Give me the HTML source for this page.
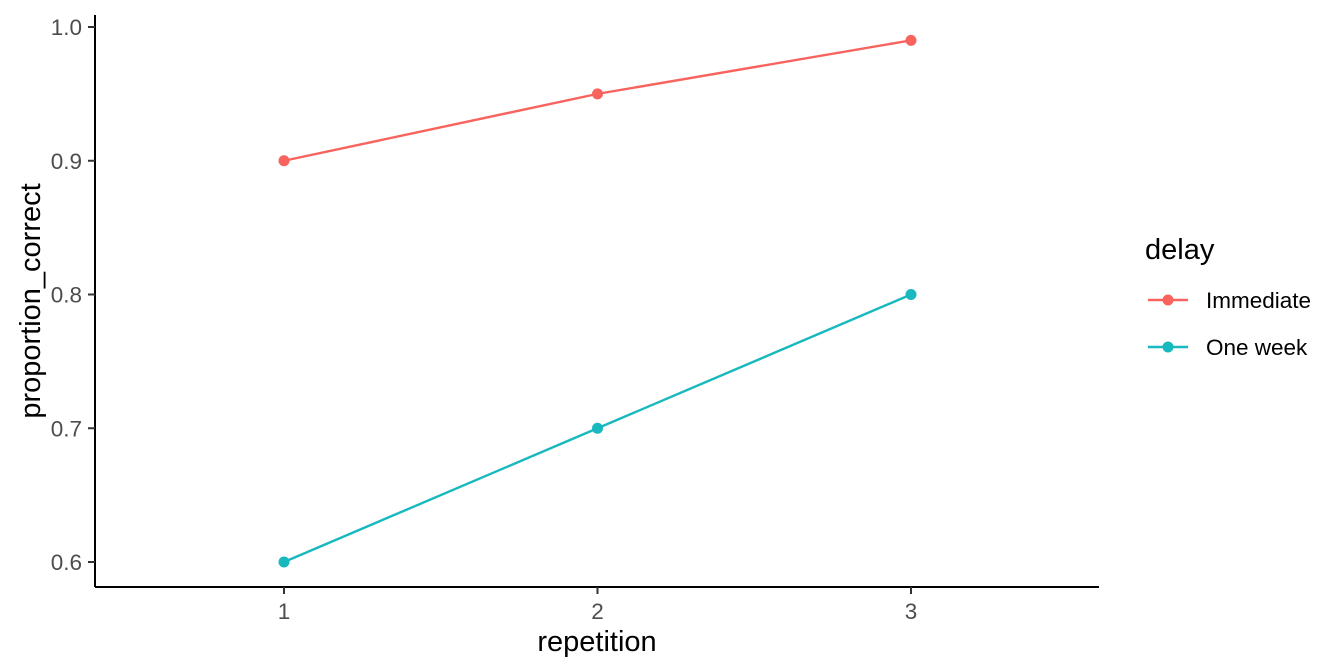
<!DOCTYPE html>
<html><head><meta charset="utf-8"><style>
body{margin:0;background:#fff;}
svg{display:block;font-family:"Liberation Sans",Arial,sans-serif;}
</style></head><body>
<svg id="chart" width="1344" height="672"></svg>
<script>
const categories=[1,2,3];
const immediateValues=[0.90,0.95,0.99];
const oneWeekValues=[0.60,0.70,0.80];
const yTickLabels=["0.6","0.7","0.8","0.9","1.0"];
const xTickLabels=["1","2","3"];
const seriesNames=["Immediate","One week"];

const NS="http://www.w3.org/2000/svg";
const svg=document.getElementById('chart');
function el(t,a,p){const e=document.createElementNS(NS,t);for(const k in a)e.setAttribute(k,a[k]);(p||svg).appendChild(e);return e;}
const xs=v=>284+(v-1)*313.5;
const ys=v=>562-(v-0.6)*1337.5;
const colors=["#F8635E","#17B8BE"];

const xa=el('line',{x1:95,x2:1099,y1:587,y2:587,stroke:'#000','stroke-width':2});

const ya=el('line',{x1:95,x2:95,y1:15,y2:587,stroke:'#000','stroke-width':2});


yTickLabels.forEach(l=>{const y=ys(parseFloat(l));
 const t=el('line',{x1:88,x2:95,y1:y,y2:y,stroke:'#333','stroke-width':2});
 
 const tx=el('text',{x:82,y:y+8,'text-anchor':'end','font-size':22.5,fill:'#4d4d4d'});tx.textContent=l;
 });
xTickLabels.forEach(l=>{const x=xs(parseFloat(l));
 const t=el('line',{x1:x,x2:x,y1:587,y2:594,stroke:'#333','stroke-width':2});
 
 const tx=el('text',{x:x,y:619,'text-anchor':'middle','font-size':22.5,fill:'#4d4d4d'});tx.textContent=l;
 });

const xt=el('text',{x:597,y:651,'text-anchor':'middle','font-size':29,fill:'#000'});xt.textContent='repetition';

const yt=el('text',{x:0,y:0,'text-anchor':'middle','font-size':29,fill:'#000',transform:'translate(40,301) rotate(-90)'});yt.textContent='proportion_correct';


[immediateValues,oneWeekValues].forEach((vals,i)=>{
 const pl=el('polyline',{points:categories.map((c,j)=>xs(c)+','+ys(vals[j])).join(' '),fill:'none',stroke:colors[i],'stroke-width':2.4});
 
 categories.forEach((c,j)=>{const p=el('circle',{cx:xs(c),cy:ys(vals[j]),r:5.5,fill:colors[i]});
  });
});

const lt=el('text',{x:1145,y:259,'font-size':29,fill:'#000'});lt.textContent='delay';

seriesNames.forEach((n,i)=>{const y=300+i*47;
 const g=el('g',{});
 el('line',{x1:1148,x2:1188,y1:y,y2:y,stroke:colors[i],'stroke-width':2.4},g);
 el('circle',{cx:1168,cy:y,r:5.5,fill:colors[i]},g);
 const t=el('text',{x:1206,y:y+8,'font-size':22.5,fill:'#000'},g);t.textContent=n;});
</script>
</body></html>
